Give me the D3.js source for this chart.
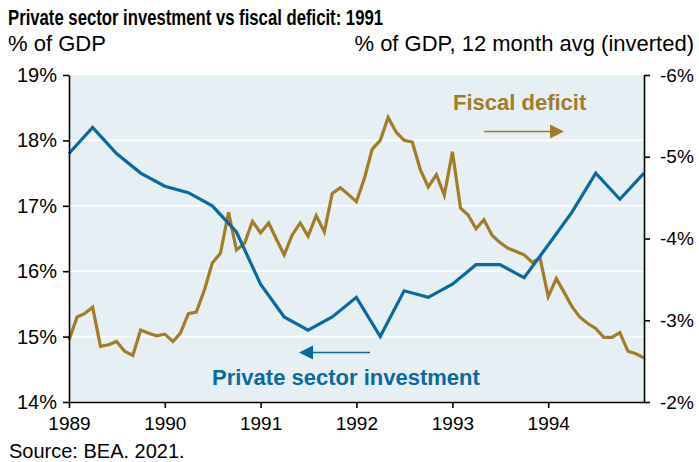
<!DOCTYPE html>
<html>
<head>
<meta charset="utf-8">
<script src="https://cdn.jsdelivr.net/npm/d3@7/dist/d3.min.js"></script>
<style>
  html, body { margin: 0; padding: 0; background: #ffffff; }
  svg { display: block; }
  text { font-family: "Liberation Sans", Arial, sans-serif; }
  .title { font-family: "Liberation Sans Narrow", "Arial Narrow", "Liberation Sans", sans-serif; font-weight: bold; }
</style>
</head>
<body>
<svg id="chart" width="699" height="462"></svg>
<script>
// Private fixed investment, % of GDP (quarterly, 1989 Q1 – 1995 Q1)
const investmentStart = new Date(1989, 0, 1);
const investmentValues = [
  17.8, 18.2, 17.8, 17.5,
  17.3, 17.2, 17.0, 16.6,
  15.8, 15.3, 15.1, 15.3,
  15.6, 15.0, 15.7, 15.6,
  15.8, 16.1, 16.1, 15.9,
  16.4, 16.9, 17.5, 17.1,
  17.5
];

// Federal deficit, % of GDP, 12-month average (monthly, Jan 1989 – Jan 1995)
const deficitStart = new Date(1989, 0, 1);
const deficitValues = [
  -2.76, -3.04, -3.08, -3.16, -2.68, -2.70, -2.74, -2.62, -2.57, -2.88, -2.84, -2.81,
  -2.83, -2.74, -2.84, -3.08, -3.10, -3.37, -3.70, -3.82, -4.32, -3.86, -3.94, -4.21,
  -4.07, -4.19, -4.00, -3.80, -4.04, -4.19, -4.03, -4.28, -4.08, -4.55, -4.62, -4.54,
  -4.45, -4.74, -5.09, -5.20, -5.48, -5.30, -5.20, -5.18, -4.84, -4.63, -4.78, -4.53,
  -5.06, -4.37, -4.29, -4.12, -4.23, -4.04, -3.95, -3.88, -3.84, -3.80, -3.71, -3.76,
  -3.29, -3.51, -3.35, -3.17, -3.04, -2.96, -2.90, -2.79, -2.79, -2.85, -2.62, -2.59,
  -2.54
];

// Axis ticks
const yearTicks = [1989, 1990, 1991, 1992, 1993, 1994];
const leftTicks = [14, 15, 16, 17, 18, 19];
const rightTicks = [-6, -5, -4, -3, -2];

// Text
const titleText = "Private sector investment vs fiscal deficit: 1991";
const leftUnit = "% of GDP";
const rightUnit = "% of GDP, 12 month avg (inverted)";
const sourceText = "Source: BEA. 2021.";
const deficitLabel = "Fiscal deficit";
const investmentLabel = "Private sector investment";

const colors = { investment: "#0A69A2", deficit: "#A27C27", plotBg: "#E6EFF3", ink: "#000000" };

const investment = investmentValues.map((v, i) => ({ date: d3.timeMonth.offset(investmentStart, i * 3), value: v }));
const deficit = deficitValues.map((v, i) => ({ date: d3.timeMonth.offset(deficitStart, i), value: v }));

const svg = d3.select("#chart");
const plot = { left: 69, right: 644, top: 75, bottom: 402 };

const x = d3.scaleTime()
  .domain([new Date(1989, 0, 1), new Date(1995, 0, 1)])
  .range([plot.left, plot.right]);
const yL = d3.scaleLinear().domain([14, 19]).range([plot.bottom, plot.top]);
const yR = d3.scaleLinear().domain([-6, -2]).range([plot.top, plot.bottom]);

// Plot background
svg.append("rect")
  .attr("x", plot.left).attr("y", plot.top)
  .attr("width", plot.right - plot.left).attr("height", plot.bottom - plot.top)
  .attr("fill", colors.plotBg);

// Horizontal gridlines
svg.append("g")
  .selectAll("line")
  .data(leftTicks.filter(t => t > 14 && t < 19))
  .join("line")
  .attr("x1", plot.left).attr("x2", plot.right)
  .attr("y1", d => yL(d)).attr("y2", d => yL(d))
  .attr("stroke", "#ffffff").attr("stroke-width", 1.6);

// Series lines
const deficitLine = d3.line().x(d => x(d.date)).y(d => yR(d.value));
const investmentLine = d3.line().x(d => x(d.date)).y(d => yL(d.value));

svg.append("path")
  .datum(deficit)
  .attr("d", deficitLine)
  .attr("fill", "none")
  .attr("stroke", colors.deficit)
  .attr("stroke-width", 3.2)
  .attr("stroke-linejoin", "miter");

svg.append("path")
  .datum(investment)
  .attr("d", investmentLine)
  .attr("fill", "none")
  .attr("stroke", colors.investment)
  .attr("stroke-width", 3.2)
  .attr("stroke-linejoin", "miter");

// Axes
function styleAxis(size) {
  return g => {
    g.select(".domain").attr("stroke", colors.ink).attr("stroke-width", 1.6);
    g.selectAll(".tick line").attr("stroke", colors.ink).attr("stroke-width", 1.6);
    g.selectAll(".tick text")
      .attr("fill", colors.ink)
      .style("font-family", '"Liberation Sans", Arial, sans-serif')
      .style("font-size", size + "px");
  };
}

svg.append("g")
  .attr("transform", `translate(${plot.left},0)`)
  .call(d3.axisLeft(yL).tickValues(leftTicks).tickSize(6).tickSizeOuter(0).tickPadding(6).tickFormat(d => d + "%"))
  .call(styleAxis(20));

svg.append("g")
  .attr("transform", `translate(${plot.right},0)`)
  .call(d3.axisRight(yR).tickValues(rightTicks).tickSize(6).tickSizeOuter(0).tickPadding(10).tickFormat(d => d + "%"))
  .call(styleAxis(19));

svg.append("g")
  .attr("transform", `translate(0,${plot.bottom})`)
  .call(d3.axisBottom(x).tickValues(yearTicks.map(yr => new Date(yr, 0, 1))).tickSize(6).tickSizeOuter(0).tickPadding(9).tickFormat(d3.timeFormat("%Y")))
  .call(styleAxis(19));

// Title and unit labels
svg.append("text")
  .attr("class", "title")
  .attr("x", 8).attr("y", 25)
  .attr("textLength", 375).attr("lengthAdjust", "spacingAndGlyphs")
  .style("font-size", "22.5px")
  .style("fill", colors.ink)
  .text(titleText);

svg.append("text")
  .attr("x", 8).attr("y", 51)
  .style("font-size", "22px")
  .style("fill", colors.ink)
  .text(leftUnit);

svg.append("text")
  .attr("x", 694).attr("y", 51)
  .attr("text-anchor", "end")
  .style("font-size", "22px")
  .style("fill", colors.ink)
  .text(rightUnit);

svg.append("text")
  .attr("x", 9).attr("y", 458)
  .style("font-size", "20px")
  .style("fill", colors.ink)
  .text(sourceText);

// Series annotations with direction arrows
svg.append("text")
  .attr("x", 453).attr("y", 110)
  .style("font-size", "22px").style("font-weight", "bold")
  .style("fill", colors.deficit)
  .text(deficitLabel);

svg.append("text")
  .attr("x", 212).attr("y", 385)
  .style("font-size", "22px").style("font-weight", "bold")
  .style("fill", colors.investment)
  .text(investmentLabel);

function arrow(x0, x1, y, color) {
  const dir = Math.sign(x1 - x0);
  const headLen = 14, headHalf = 7;
  svg.append("line")
    .attr("x1", x0).attr("x2", x1 - dir * headLen)
    .attr("y1", y).attr("y2", y)
    .attr("stroke", color).attr("stroke-width", 1.6);
  svg.append("path")
    .attr("d", `M${x1},${y} L${x1 - dir * headLen},${y - headHalf} L${x1 - dir * headLen},${y + headHalf} Z`)
    .attr("fill", color);
}
arrow(484, 564, 131.5, colors.deficit);
arrow(370, 299, 352.5, colors.investment);
</script>
</body>
</html>
